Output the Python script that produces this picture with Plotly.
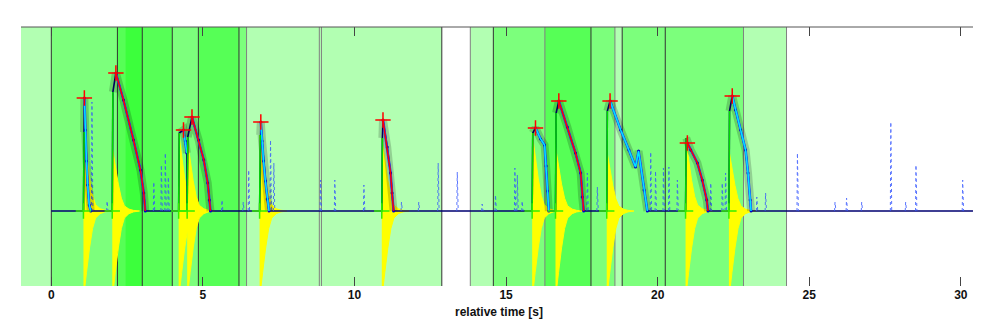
import plotly.graph_objects as go

# ~~~ DATA ~~~
# Axis settings (seconds / normalised signal)
x_ticks = [0, 5, 10, 15, 20, 25, 30]
x_range = [-1, 30.5]
y_range = [-0.75, 1.84]

# Shaded segments; each one adds a layer of translucent green.
seg_start = [-1.0, 0.0, 2.18, 2.45, 4.85, 13.82, 14.58, 16.28, 18.83]
seg_end = [12.88, 6.44, 3.99, 3.00, 6.19, 24.25, 18.59, 17.80, 22.83]

# Vertical marker lines (True = dark, False = grey)
vline_x = [0.0, 2.18, 3.00, 3.99, 4.85, 6.19, 6.44, 8.84, 8.91, 12.88,
           13.82, 14.58, 16.28, 17.80, 18.59, 18.83, 20.25, 22.83, 24.25]
vline_dark = [True, True, True, True, True, True, False, False, False, True,
              False, True, False, True, False, True, True, False, False]

# Detected events
ev_onset = [1.06, 2.01, 4.20, 4.48, 6.87, 10.90, 15.86, 16.63, 18.32, 20.92, 22.35]
ev_rise = [0.79, 1.19, 0.78, 0.74, 0.76, 0.73, 0.78, 0.98, 1.00, 0.73, 1.00]
ev_peak_t = [1.09, 2.13, 4.36, 4.64, 6.91, 10.94, 15.97, 16.74, 18.43, 20.98, 22.46]
ev_peak_y = [1.13, 1.38, 0.81, 0.94, 0.89, 0.91, 0.83, 1.10, 1.10, 0.68, 1.15]
ev_decay_t = [
    [1.12, 1.16, 1.20, 1.25, 1.30],
    [2.38, 2.71, 2.94, 3.05, 3.10],
    [4.42, 4.47],
    [4.86, 5.03, 5.16, 5.21, 5.25],
    [6.95, 7.00, 7.06, 7.12, 7.18],
    [11.08, 11.19, 11.24, 11.29],
    [16.14, 16.27, 16.32, 16.37, 16.41],
    [17.02, 17.29, 17.46, 17.51, 17.56],
    [18.78, 19.05, 19.27, 19.37, 19.55, 19.66],
    [21.09, 21.31, 21.47, 21.62, 21.66],
    [22.57, 22.74, 22.90, 22.98, 23.05, 23.08],
]
ev_decay_y = [
    [0.81, 0.50, 0.26, 0.06, 0.0],
    [1.11, 0.71, 0.41, 0.18, 0.0],
    [0.70, 0.58],
    [0.71, 0.51, 0.28, 0.11, 0.0],
    [0.70, 0.50, 0.30, 0.12, 0.0],
    [0.64, 0.38, 0.18, 0.0],
    [0.72, 0.66, 0.45, 0.20, 0.0],
    [0.84, 0.58, 0.38, 0.14, 0.0],
    [0.81, 0.61, 0.44, 0.60, 0.21, 0.0],
    [0.61, 0.48, 0.31, 0.11, 0.0],
    [1.01, 0.81, 0.61, 0.38, 0.11, 0.0],
]
ev_fit = ["cyan", "red", "cyan", "red", "cyan", "red", "cyan", "red", "cyan", "red", "cyan"]
ev_kernel_up = [0.79, 0.64, 0.78, 0.72, 0.76, 0.73, 0.78, 0.64, 0.61, 0.73, 0.61]
kernel_low = 0.88

# Shape of the detection kernel (time after onset, fraction of amplitude)
kernel_dt = [0, 0.05, 0.10, 0.20, 0.30, 0.40, 0.55, 0.70, 0.90]
kernel_f = [1.0, 0.84, 0.70, 0.42, 0.20, 0.08, 0.03, 0.01, 0.0]

# Small spontaneous spikes on the baseline
spike_t = [1.34, 1.84, 3.38, 3.63, 3.76, 3.86, 5.63, 6.33, 6.51, 7.23, 7.34,
           8.88, 9.35, 10.31, 11.55, 12.12, 12.76, 13.39, 14.21, 14.65, 15.29,
           15.37, 15.53, 17.68, 18.01, 19.77, 19.93, 20.19, 20.37, 20.65, 21.75,
           22.13, 22.24, 23.27, 23.56, 24.61, 25.85, 26.23, 26.73, 27.69, 28.18,
           28.52, 30.06, 30.44]
spike_h = [1.09, 0.10, 0.29, 0.46, 0.58, 0.34, 0.11, 0.09, 0.41, 0.71, 0.48,
           0.31, 0.31, 0.26, 0.09, 0.09, 0.48, 0.39, 0.07, 0.16, 0.43,
           0.36, 0.10, 0.38, 0.24, 0.59, 0.40, 0.43, 0.44, 0.31, 0.28,
           0.28, 0.38, 0.14, 0.18, 0.58, 0.09, 0.13, 0.09, 0.89, 0.09,
           0.46, 0.31, 0.58]

fig = go.Figure()

# Yellow kernels
for i, t0 in enumerate(ev_onset):
    up_x = [t0 + d for d in kernel_dt]
    up_y = [ev_kernel_up[i] * f for f in kernel_f]
    lo_y = [-kernel_low * f for f in kernel_f]
    fig.add_trace(go.Scatter(
        x=up_x + up_x[::-1], y=up_y + lo_y[::-1], fill="toself",
        fillcolor="#ffff00", mode="lines", line=dict(color="#ffff00", width=1),
        hoverinfo="skip", showlegend=False))

# Baseline + events signal
sig_x, sig_y = [0.0], [0.0]
for i, t0 in enumerate(ev_onset):
    sig_x += [t0, t0 + 0.02, ev_peak_t[i]] + ev_decay_t[i]
    sig_y += [0.0, ev_rise[i], ev_peak_y[i]] + ev_decay_y[i]
sig_x.append(30.4)
sig_y.append(0.0)
fig.add_trace(go.Scatter(x=sig_x, y=sig_y, mode="lines",
                         line=dict(color="#000070", width=1.6),
                         hoverinfo="skip", showlegend=False))

# Spikes
sp_x, sp_y = [], []
for t, h in zip(spike_t, spike_h):
    sp_x += [t - 0.015, t, t + 0.03, None]
    sp_y += [0.0, h, 0.0, None]
fig.add_trace(go.Scatter(x=sp_x, y=sp_y, mode="lines",
                         line=dict(color="#3355ff", width=1, dash="dot"),
                         opacity=0.8, hoverinfo="skip", showlegend=False))

# Raw-data cloud, rise and decay fits
for i, t0 in enumerate(ev_onset):
    dx = [ev_peak_t[i]] + ev_decay_t[i]
    dy = [ev_peak_y[i]] + ev_decay_y[i]
    fig.add_trace(go.Scatter(x=[t0 + 0.02] + dx, y=[ev_rise[i]] + dy, mode="lines",
                             line=dict(color="rgba(0,0,0,0.18)", width=8),
                             hoverinfo="skip", showlegend=False))
    fig.add_trace(go.Scatter(x=dx, y=dy, mode="lines+markers",
                             line=dict(color="#1a3cff", width=2.5),
                             marker=dict(size=3, color="#0000cc"),
                             hoverinfo="skip", showlegend=False))
    fit_col = "#ff0000" if ev_fit[i] == "red" else "#00e5ff"
    fig.add_trace(go.Scatter(x=dx, y=dy, mode="lines",
                             line=dict(color=fit_col, width=1.5),
                             hoverinfo="skip", showlegend=False))
    fig.add_trace(go.Scatter(x=[t0, t0 + 0.02], y=[0.0, ev_rise[i]], mode="lines",
                             line=dict(color="#00dd00", width=1.5),
                             hoverinfo="skip", showlegend=False))

# Onset and peak markers
fig.add_trace(go.Scatter(x=ev_onset, y=[0.0] * len(ev_onset), mode="markers",
                         marker=dict(symbol="cross-thin", size=11,
                                     line=dict(color="#33ee00", width=1.5)),
                         hoverinfo="skip", showlegend=False))
fig.add_trace(go.Scatter(x=ev_peak_t, y=ev_peak_y, mode="markers",
                         marker=dict(symbol="cross-thin", size=11,
                                     line=dict(color="#ff0000", width=1.5)),
                         hoverinfo="skip", showlegend=False))

# Shading and vertical lines
shapes = []
for a, b in zip(seg_start, seg_end):
    shapes.append(dict(type="rect", xref="x", yref="paper", x0=a, x1=b, y0=0, y1=1,
                       fillcolor="rgba(0,255,0,0.3)", line=dict(width=0), layer="below"))
for x, dark in zip(vline_x, vline_dark):
    shapes.append(dict(type="line", xref="x", yref="paper", x0=x, x1=x, y0=0, y1=1,
                       line=dict(color="#333333" if dark else "#808080", width=1),
                       layer="below"))
# top and right frame
shapes.append(dict(type="line", xref="paper", yref="paper", x0=0, x1=1, y0=1, y1=1,
                   line=dict(color="#555555", width=1)))
shapes.append(dict(type="line", xref="paper", yref="paper", x0=1, x1=1, y0=0, y1=1,
                   line=dict(color="#777777", width=1)))

# page body has an 8px margin, so the figure is shrunk by that amount
fig.update_layout(
    width=973, height=313,
    margin=dict(l=13, r=5, t=19, b=35),
    plot_bgcolor="white", paper_bgcolor="white",
    shapes=shapes,
    xaxis=dict(range=x_range, tickvals=x_ticks, ticks="inside", ticklen=9,
               tickcolor="#444444", mirror="ticks", showline=False,
               showgrid=False, zeroline=False,
               tickfont=dict(family="Liberation Sans", size=12, color="#111111",
                             weight="bold")),
    yaxis=dict(range=y_range, tickvals=[y_range[0]], ticks="inside", ticklen=9,
               tickcolor="#444444", mirror="ticks", showticklabels=False,
               showline=False, showgrid=False, zeroline=False),
    annotations=[dict(text="relative time [s]", xref="paper", yref="paper",
                      x=0.5, y=-0.1, yanchor="middle", showarrow=False,
                      font=dict(family="Liberation Sans", size=12, color="#111111",
                                weight="bold"))],
)

fig.write_html("out.html")
